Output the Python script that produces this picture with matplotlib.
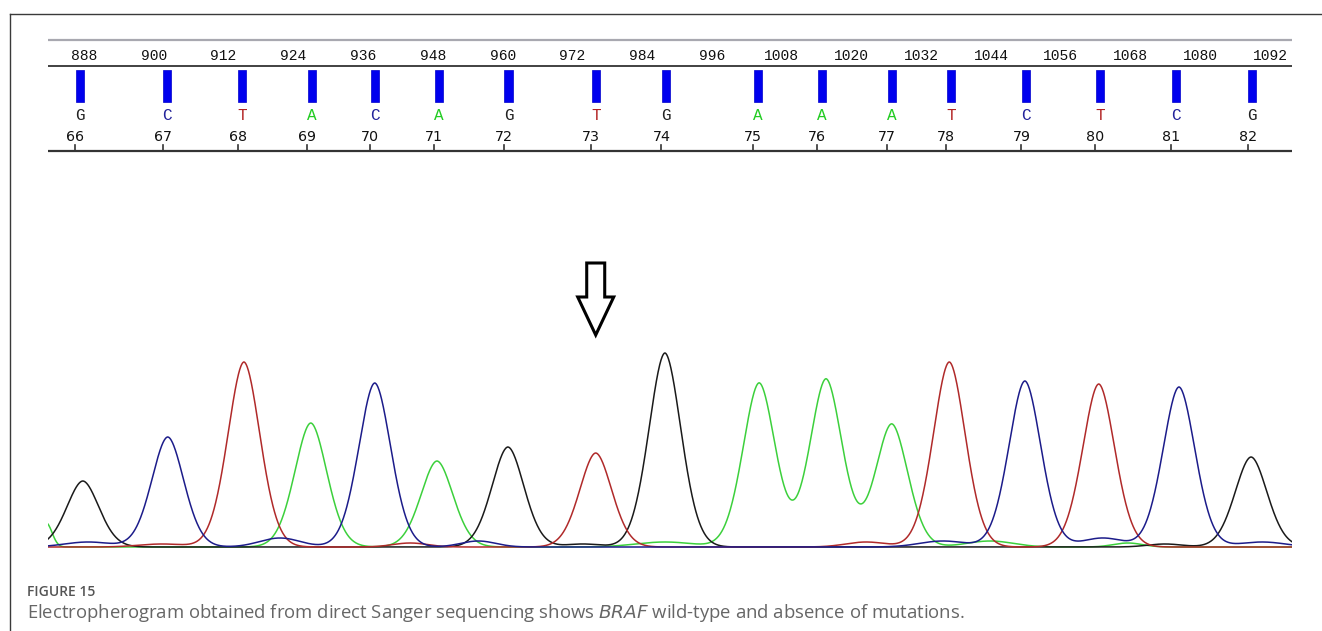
import numpy as np
import matplotlib
matplotlib.use("Agg")
import matplotlib.pyplot as plt
from matplotlib.lines import Line2D
from matplotlib.patches import Polygon

W, H = 1322, 631

positions = [66, 67, 68, 69, 70, 71, 72, 73, 74, 75, 76, 77, 78, 79, 80, 81, 82]
bases = ["G", "C", "T", "A", "C", "A", "G", "T", "G", "A", "A", "A", "T", "C", "T", "C", "G"]
base_scan = [887.3, 902.3, 915.2, 927.2, 938.0, 949.0, 961.0, 976.0, 988.1,
             1003.9, 1014.9, 1026.9, 1037.1, 1050.0, 1062.7, 1075.8, 1088.9]
scan_ticks = [888, 900, 912, 924, 936, 948, 960, 972, 984, 996,
              1008, 1020, 1032, 1044, 1056, 1068, 1080, 1092]

# main peaks of the trace
peak_scan = [887.8, 902.4, 915.5, 927.0, 938.0, 948.7, 960.9, 976.0, 987.9,
             1004.1, 1015.6, 1026.9, 1036.8, 1049.8, 1062.5, 1076.3, 1088.7]
peak_height = [66, 110, 185, 124, 164, 86, 100, 94, 194,
               164, 168, 123, 185, 166, 163, 160, 90]

# small baseline bumps: channel, scan, height, width
minor_base = ["A", "C", "T", "C", "T", "C", "G", "A", "T", "C", "A", "C", "A", "G", "C"]
minor_scan = [881.5, 888.7, 901.4, 921.7, 944.1, 955.8, 973.8, 987.9,
              1022.5, 1035.7, 1043.8, 1063.2, 1067.5, 1073.9, 1090.6]
minor_height = [24, 5, 3, 9, 4, 6, 3, 5, 5, 6, 6, 9, 4, 3, 5]
minor_width = [1.0, 4.0, 4.0, 3.5, 3.0, 3.0, 3.0, 5.0, 3.5, 4.0, 4.0, 3.5, 2.5, 3.0, 4.0]

letter_colors = {"G": "#222222", "C": "#23239b", "T": "#b22222", "A": "#22cc22"}
trace_colors = {"G": "#1a1a1a", "C": "#1c1c8a", "T": "#b02a2a", "A": "#3cd03c"}

PX_PER_SCAN = 5.815
x0_px, x1_px = 48, 1292
xlim = (888 - (84 - x0_px) / PX_PER_SCAN, 888 + (x1_px - 84) / PX_PER_SCAN)


def frac_box(left, top, right, bottom):
    return [left / W, 1 - bottom / H, (right - left) / W, (bottom - top) / H]


def peak_shape(x, s, w):
    # slightly pointed peak, closer to the chromatogram look than a plain gaussian
    d = np.abs(x - s) / w
    return np.exp(-0.5 * d ** 1.85)


fig = plt.figure(figsize=(W / 100, H / 100), dpi=100)

# outer frame (top + left)
fig.add_artist(Line2D([10 / W, 1], [1 - 14 / H, 1 - 14 / H], color="#3a3a3a", lw=1))
fig.add_artist(Line2D([10 / W, 10 / W], [0, 1 - 14 / H], color="#3a3a3a", lw=1))

# ---- top ruler / base calls ----
top = fig.add_axes(frac_box(x0_px, 30, x1_px, 160))
top.set_xlim(*xlim)
top.set_ylim(160, 30)
top.axis("off")
top.axhline(40, color="#a8a8b0", lw=1.6)
top.axhline(66, color="#333333", lw=1.3)
top.axhline(151, color="#333333", lw=1.6)
for s in scan_ticks:
    top.text(s, 56, str(s), ha="center", va="center", family="Liberation Mono",
             fontsize=10.5, color="#111111")
top.bar(base_scan, [32] * len(base_scan), bottom=70, width=1.38, color="#0000ee",
        edgecolor="#0000cc", lw=0.5)
tick_off = 4.6 / PX_PER_SCAN
for s, b, p in zip(base_scan, bases, positions):
    top.text(s, 115, b, ha="center", va="center", family="Liberation Mono",
             fontsize=11.5, color=letter_colors[b])
    top.text(s - tick_off, 137, str(p), ha="center", va="center", family="DejaVu Sans",
             fontsize=10.3, color="#111111")
    top.plot([s - tick_off, s - tick_off], [145, 151], color="#333333", lw=1.2)

# ---- electropherogram ----
ax = fig.add_axes(frac_box(x0_px, 250, x1_px, 560))
ax.set_xlim(*xlim)
ax.set_ylim(-13, 297)
ax.axis("off")

x = np.linspace(xlim[0], xlim[1] + 0.1, 3000)
sigma = 2.75
traces = {}
for ch in ["A", "C", "G", "T"]:
    y = np.zeros_like(x)
    for b, s, h in zip(bases, peak_scan, peak_height):
        if b == ch:
            y += h * peak_shape(x, s, sigma)
    for b, s, h, w in zip(minor_base, minor_scan, minor_height, minor_width):
        if b == ch:
            y += h * np.exp(-0.5 * ((x - s) / w) ** 2)
    traces[ch] = y

for ch in ["A", "G", "T", "C"]:
    ax.plot(x, traces[ch], color=trace_colors[ch], lw=1.1)

# hollow arrow pointing at base 73 (T)
ax_x = base_scan[positions.index(73)]
sw, hw = 9 / PX_PER_SCAN, 18 / PX_PER_SCAN
arrow = [(ax_x - sw, 284), (ax_x + sw, 284), (ax_x + sw, 250), (ax_x + hw, 250),
         (ax_x, 212), (ax_x - hw, 250), (ax_x - sw, 250)]
ax.add_patch(Polygon(arrow, closed=True, facecolor="white", edgecolor="black", lw=2.2,
                     joinstyle="miter"))

# ---- caption ----
fig.text(27 / W, 1 - 592 / H, "FIGURE 15", family="Open Sans", fontweight="semibold",
         fontsize=10, color="#555555", va="center", ha="left")
fig.text(27 / W, 1 - 613 / H,
         r"Electropherogram obtained from direct Sanger sequencing shows $\it{BRAF}$ "
         "wild-type and absence of mutations.",
         family="Open Sans", fontsize=13.3, color="#666666", va="center", ha="left")

fig.savefig("out.png", dpi=100)
